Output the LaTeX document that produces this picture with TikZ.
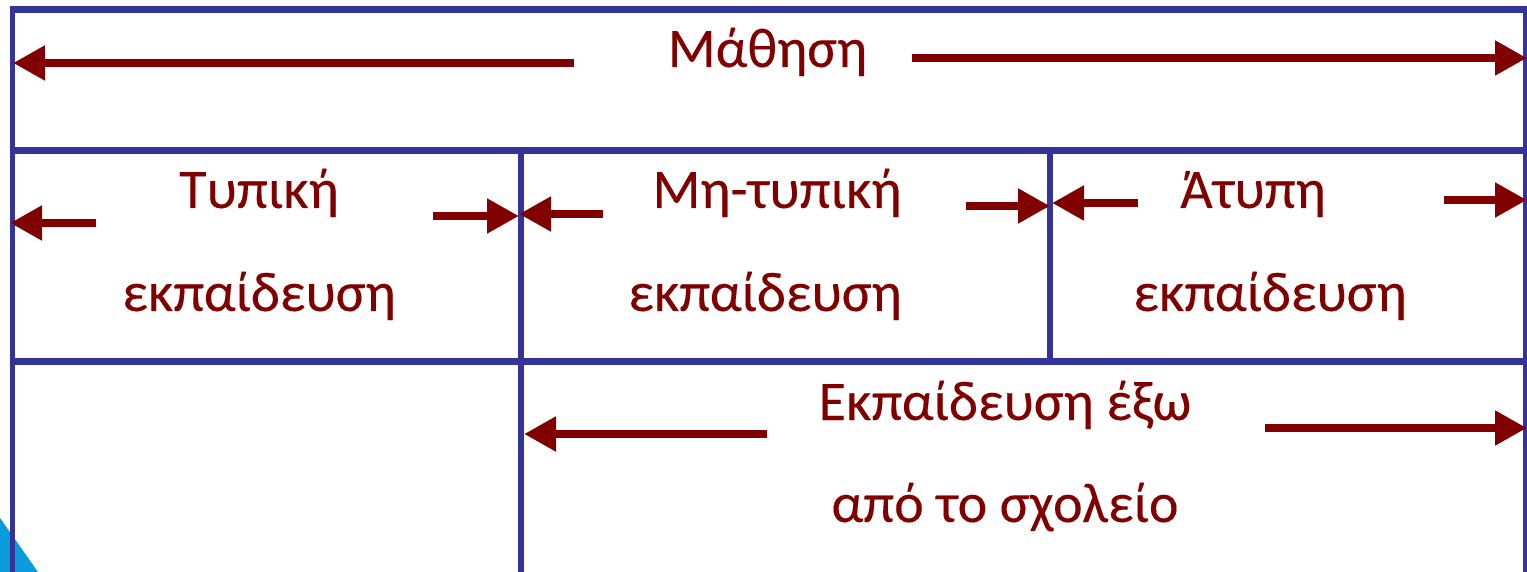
\documentclass[tikz,border=0pt]{standalone}
\usepackage{fontspec}
\setmainfont[FakeBold=0.2]{Carlito}
\usetikzlibrary{arrows.meta}
\definecolor{gridblue}{HTML}{333399}
\definecolor{darkred}{HTML}{800000}
\definecolor{cornerblue}{HTML}{0A9BDC}
\tikzset{
  hline/.style={draw=gridblue,line width=7pt},
  vline/.style={draw=gridblue,line width=5pt},
  arrowline/.style={draw=darkred,line width=8pt,-{Triangle[length=32pt,width=33pt]}},
  label/.style={text=darkred,font=\fontsize{56}{56}\selectfont,inner sep=0pt,anchor=base}
}
\begin{document}
\begin{tikzpicture}[x=1pt,y=-1pt]
\useasboundingbox (0,0) rectangle (1527,572);
\fill[cornerblue] (0,518) -- (38,572) -- (0,572) -- cycle;
% frame
\draw[vline] (12,6) -- (12,572);
\draw[vline] (1525,6) -- (1525,572);
\draw[hline] (9.5,9.5) -- (1527,9.5);
\draw[hline] (10,150.5) -- (1527,150.5);
\draw[hline] (10,361.5) -- (1527,361.5);
\draw[vline,line width=6pt] (520.5,150) -- (520.5,572);
\draw[vline,line width=6pt] (1050,150) -- (1050,362);
% labels
\node[label] (mathisi) at (767.5,67) {Μάθηση};
\node[label] (typiki) at (259,208) {Τυπική};
\node[label] (typikiE) at (259,311) {εκπαίδευση};
\node[label] (mityp) at (777,208) {Μη-τυπική};
\node[label] (mitypE) at (765,311) {εκπαίδευση};
\node[label] (atypi) at (1253,208) {Άτυπη};
\node[label] (atypiE) at (1270,311) {εκπαίδευση};
\node[label] (ekp) at (1005,420) {Εκπαίδευση έξω};
\node[label] (sch) at (1005,522) {από το σχολείο};
% arrow ends
\coordinate (a1s) at (574,63);   \coordinate (a1e) at (13,63);
\coordinate (a2s) at (912,58);   \coordinate (a2e) at (1527,58);
\coordinate (a3s) at (96,223);   \coordinate (a3e) at (10,223);
\coordinate (a4s) at (433,216);  \coordinate (a4e) at (519,216);
\coordinate (a5s) at (603,214);  \coordinate (a5e) at (519,214);
\coordinate (a6s) at (966,206);  \coordinate (a6e) at (1050,206);
\coordinate (a7s) at (1138,203); \coordinate (a7e) at (1052,203);
\coordinate (a8s) at (1444,200); \coordinate (a8e) at (1527,200);
\coordinate (a9s) at (767,434);  \coordinate (a9e) at (524,434);
\coordinate (a10s) at (1265,428); \coordinate (a10e) at (1527,428);
\foreach \i in {1,...,10} \draw[arrowline] (a\i s) -- (a\i e);
\end{tikzpicture}
\end{document}
